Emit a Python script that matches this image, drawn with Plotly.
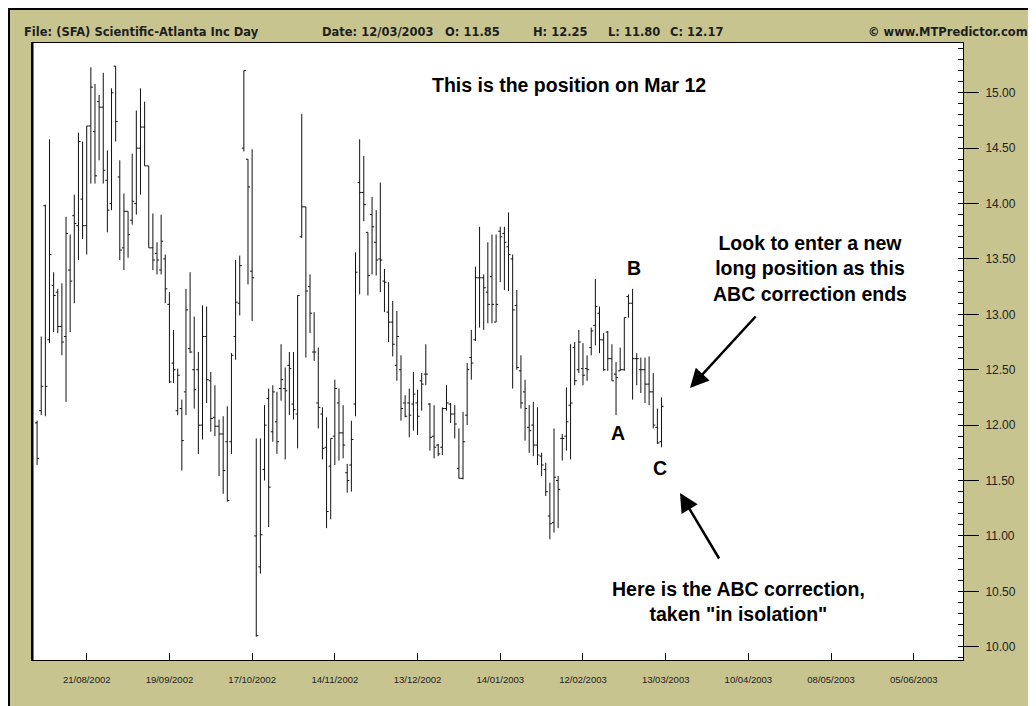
import plotly.graph_objects as go

# ---------------- data ----------------
opens = [12.02, 12.13, 13.98, 12.77, 13.26, 13.20, 12.89, 12.80, 13.40, 13.89,
         13.80, 14.04, 13.80, 14.70, 14.65, 14.92, 14.87, 14.21, 14.00, 15.24,
         14.24, 13.60, 13.93, 13.85, 14.00, 14.50, 14.69, 14.34, 13.60, 13.55,
         13.40, 13.50, 13.09, 12.56, 12.13, 12.15, 12.30, 12.69, 12.50, 12.50,
         12.00, 12.80, 12.40, 12.07, 11.99, 11.92, 11.85, 11.85, 12.80, 13.10,
         14.50, 14.40, 13.39, 11.00, 10.72, 11.60, 12.24, 11.94, 12.03, 12.33,
         12.33, 12.54, 12.19, 12.10, 13.70, 13.97, 13.25, 12.66, 12.20, 12.10,
         11.80, 11.63, 11.90, 12.20, 11.93, 11.57, 11.64, 12.19, 14.19, 14.10,
         13.74, 13.90, 13.65, 13.50, 13.30, 13.02, 12.93, 12.54, 12.50, 12.20,
         12.20, 12.19, 12.20, 12.40, 12.46, 12.19, 11.90, 11.82, 11.80, 12.15,
         12.19, 12.10, 11.61, 11.52, 12.09, 12.61, 12.77, 13.33, 13.33, 13.20,
         13.34, 12.93, 13.75, 13.73, 13.61, 13.50, 13.08, 12.49, 12.30, 11.98,
         12.00, 11.82, 11.72, 11.60, 11.18, 11.12, 11.50, 11.88, 11.90, 12.18,
         12.70, 12.50, 12.51, 12.51, 12.70, 12.90, 13.01, 12.77, 12.84, 12.60,
         12.46, 12.49, 12.50, 13.16, 13.10, 12.60, 12.50, 12.50, 12.37, 12.30,
         11.98, 11.85]

highs = [12.04, 12.80, 13.99, 14.58, 13.38, 13.23, 13.28, 13.88, 13.72, 14.08,
         14.64, 14.56, 14.70, 15.23, 15.08, 14.98, 15.18, 14.48, 15.04, 15.24,
         14.39, 14.09, 13.93, 14.45, 14.84, 15.04, 14.92, 14.34, 13.91, 13.65,
         13.90, 13.54, 13.20, 12.86, 12.51, 12.23, 13.23, 13.38, 12.98, 12.66,
         13.08, 13.07, 12.48, 12.36, 12.05, 12.08, 12.17, 12.65, 13.49, 13.53,
         15.20, 14.40, 14.49, 11.88, 11.88, 12.18, 12.33, 12.36, 12.30, 12.73,
         12.52, 12.66, 12.66, 13.17, 14.81, 13.97, 13.36, 13.02, 12.70, 12.16,
         12.07, 11.88, 12.41, 12.33, 12.18, 11.65, 12.04, 13.56, 14.58, 14.43,
         13.74, 14.06, 13.94, 14.19, 13.41, 13.29, 13.12, 13.03, 12.63, 12.27,
         12.33, 12.48, 12.32, 12.47, 12.73, 12.20, 12.18, 11.83, 12.16, 12.36,
         12.20, 12.18, 11.97, 12.12, 12.56, 12.86, 13.43, 13.79, 13.36, 13.65,
         13.72, 13.72, 13.79, 13.79, 13.92, 13.54, 13.22, 12.63, 12.41, 12.18,
         12.21, 12.16, 11.75, 11.66, 11.48, 11.97, 11.54, 11.92, 12.34, 12.73,
         12.75, 12.86, 12.74, 12.63, 12.88, 13.32, 13.07, 12.83, 12.85, 12.73,
         12.57, 12.70, 12.97, 13.18, 13.23, 12.65, 12.61, 12.61, 12.62, 12.47,
         12.15, 12.25]

lows = [11.64, 12.09, 12.08, 12.74, 12.84, 12.83, 12.63, 12.21, 12.84, 13.10,
        13.49, 13.68, 13.54, 14.18, 14.18, 14.39, 14.18, 13.74, 13.94, 14.56,
        13.49, 13.40, 13.51, 13.81, 13.90, 14.08, 14.34, 13.60, 13.40, 13.36,
        13.36, 13.10, 12.38, 12.38, 12.09, 11.59, 12.09, 12.65, 12.15, 11.74,
        11.87, 12.20, 11.94, 11.90, 11.54, 11.38, 11.31, 11.74, 12.59, 12.99,
        14.47, 13.27, 12.94, 10.09, 10.66, 11.50, 11.08, 11.85, 11.74, 12.22,
        11.69, 12.09, 12.05, 11.79, 13.69, 12.61, 12.83, 12.58, 11.97, 11.69,
        11.07, 11.15, 11.64, 11.68, 11.70, 11.39, 11.40, 12.08, 13.18, 13.84,
        13.17, 13.36, 13.35, 13.20, 13.02, 12.75, 12.62, 12.40, 12.04, 12.07,
        11.89, 11.95, 11.91, 12.13, 12.36, 11.77, 11.70, 11.72, 11.73, 12.13,
        12.02, 11.88, 11.52, 11.51, 12.00, 12.41, 12.76, 12.88, 12.86, 12.92,
        12.92, 12.93, 13.29, 13.22, 13.21, 12.33, 12.50, 12.15, 11.86, 11.75,
        11.72, 11.64, 11.54, 11.36, 10.97, 11.03, 11.07, 11.68, 11.77, 11.69,
        12.36, 12.47, 12.36, 12.40, 12.63, 12.72, 12.65, 12.49, 12.49, 12.40,
        12.09, 12.49, 12.49, 12.97, 12.23, 12.36, 12.29, 12.20, 12.18, 11.97,
        11.83, 11.80]

closes = [11.70, 12.35, 12.35, 13.54, 13.17, 12.89, 12.75, 13.73, 13.30, 13.82,
          14.56, 13.80, 14.70, 15.05, 14.25, 14.87, 14.30, 13.94, 15.00, 14.74,
          13.58, 13.93, 13.72, 14.02, 14.50, 14.69, 14.34, 13.60, 13.49, 13.49,
          13.66, 13.23, 12.39, 12.50, 12.45, 11.86, 13.04, 12.66, 12.32, 12.00,
          12.80, 12.41, 12.06, 11.99, 11.92, 11.59, 11.32, 12.63, 13.11, 13.44,
          15.20, 14.15, 13.33, 10.10, 11.01, 12.00, 11.44, 12.30, 11.85, 12.41,
          12.31, 12.51, 12.14, 13.17, 13.97, 13.21, 13.01, 12.66, 12.16, 11.79,
          11.22, 11.88, 12.33, 11.93, 11.82, 11.50, 11.87, 13.38, 14.10, 13.99,
          13.35, 13.79, 13.49, 13.49, 13.29, 12.93, 12.73, 12.80, 12.15, 12.08,
          12.09, 12.28, 12.08, 12.37, 12.46, 11.89, 11.80, 11.74, 12.15, 12.20,
          12.10, 12.01, 11.52, 11.85, 12.50, 12.56, 13.33, 13.33, 13.24, 13.09,
          13.09, 13.09, 13.70, 13.65, 13.54, 13.04, 12.52, 12.20, 12.15, 11.95,
          11.82, 11.73, 11.64, 11.40, 11.11, 11.53, 11.42, 11.88, 12.03, 12.20,
          12.40, 12.75, 12.45, 12.50, 12.85, 13.07, 12.77, 12.50, 12.60, 12.40,
          12.43, 12.50, 12.97, 13.10, 12.60, 12.60, 12.50, 12.37, 12.30, 12.00,
          11.84, 12.17]

# trading-day index of each bar (bar 12 is 21/08/2002)
bar_index = list(range(len(closes)))

tick_positions = [12, 32, 52, 72, 92, 112, 132, 152, 172, 192, 212]
tick_labels = ["21/08/2002", "19/09/2002", "17/10/2002", "14/11/2002",
               "13/12/2002", "14/01/2003", "12/02/2003", "13/03/2003",
               "10/04/2003", "08/05/2003", "05/06/2003"]

header_left = "File: (SFA) Scientific-Atlanta Inc Day"
header_fields = ["Date: 12/03/2003", "O: 11.85", "H: 12.25", "L: 11.80", "C: 12.17"]
header_right = "\u00a9 www.MTPredictor.com"

# ---------------- layout geometry ----------------
# The page body has an 8px margin, so the figure sits at page (8, 8).
OFF = 8
W, H = 1036 - OFF, 706 - OFF
PLOT_L, PLOT_R, PLOT_T, PLOT_B = 32, 963, 43, 660      # page pixels
L_M, T_M = PLOT_L - OFF, PLOT_T - OFF
R_M, B_M = W - (PLOT_R - OFF), H - (PLOT_B - OFF)
PW, PH = PLOT_R - PLOT_L, PLOT_B - PLOT_T
X_RANGE = [-1.23, 223.9]
Y_RANGE = [9.88, 15.449]


def px_x(px):
    return (px - PLOT_L) / PW


def px_y(py):
    return (PLOT_B - py) / PH


def dx(px):
    return X_RANGE[0] + (px - PLOT_L) / PW * (X_RANGE[1] - X_RANGE[0])


def dy(py):
    return Y_RANGE[1] - (py - PLOT_T) / PH * (Y_RANGE[1] - Y_RANGE[0])


BG = "#c8c490"

fig = go.Figure()
fig.add_trace(go.Ohlc(
    x=bar_index, open=opens, high=highs, low=lows, close=closes,
    increasing=dict(line=dict(color="#111111", width=1)),
    decreasing=dict(line=dict(color="#111111", width=1)),
    tickwidth=0.5, hoverinfo="skip", showlegend=False,
))
fig.add_trace(go.Scatter(x=[], y=[], yaxis="y2", showlegend=False, hoverinfo="skip"))

fig.update_layout(
    width=W, height=H,
    margin=dict(l=L_M, r=R_M, t=T_M, b=B_M, pad=0),
    paper_bgcolor=BG, plot_bgcolor="white",
    showlegend=False,
    xaxis=dict(
        range=X_RANGE, tickmode="array", tickvals=tick_positions, ticktext=tick_labels,
        ticks="inside", ticklen=7, tickcolor="black", tickwidth=1,
        showline=True, linecolor="black", linewidth=1, mirror=True,
        showgrid=False, zeroline=False, rangeslider=dict(visible=False),
        tickfont=dict(family="Liberation Sans, Arial", size=9.5, color="#222"),
        ticklabelstandoff=11,
    ),
    yaxis=dict(
        side="right", range=Y_RANGE, tick0=10, dtick=0.5, tickformat=".2f",
        ticks="outside", ticklen=15, tickcolor="black", tickwidth=1,
        showline=True, linecolor="black", linewidth=1, mirror=True,
        showgrid=False, zeroline=False,
        tickfont=dict(family="Liberation Sans, Arial", size=12, color="#222"),
        ticklabelstandoff=4,
    ),
    yaxis2=dict(
        overlaying="y", side="right", range=Y_RANGE, tick0=10, dtick=0.1,
        ticks="inside", ticklen=5, tickcolor="black", tickwidth=1,
        showticklabels=False, showgrid=False, zeroline=False, showline=False,
    ),
)

# window frame (black edge along the top and left of the figure)
fig.add_shape(type="rect", xref="paper", yref="paper", x0=px_x(OFF), x1=px_x(1040),
              y0=px_y(OFF + 2), y1=px_y(OFF - 1), fillcolor="black", line_width=0)
fig.add_shape(type="rect", xref="paper", yref="paper", x0=px_x(OFF - 1), x1=px_x(OFF + 2),
              y0=px_y(720), y1=px_y(OFF), fillcolor="black", line_width=0)
# thicker left plot border
fig.add_shape(type="line", xref="paper", yref="paper", x0=px_x(32.5), x1=px_x(32.5),
              y0=0, y1=1, line=dict(color="black", width=2))

# header
hfont = dict(family="DejaVu Sans", size=11.5, color="#1e1e1e")
fig.add_annotation(xref="paper", yref="paper", x=px_x(22), y=px_y(32), text="<b>%s</b>" % header_left,
                   showarrow=False, xanchor="left", yanchor="middle", font=hfont)
for txt, px in zip(header_fields, [320, 443, 531, 606, 668]):
    fig.add_annotation(xref="paper", yref="paper", x=px_x(px), y=px_y(32), text="<b>%s</b>" % txt,
                       showarrow=False, xanchor="left", yanchor="middle", font=hfont)
fig.add_annotation(xref="paper", yref="paper", x=px_x(1030), y=px_y(32), text="<b>%s</b>" % header_right,
                   showarrow=False, xanchor="right", yanchor="middle", font=hfont)

# chart annotations
afont = dict(family="Liberation Sans, Arial", size=19.5, color="black")
notes = [
    ("This is the position on Mar 12", 569, 85),
    ("B", 634, 268),
    ("A", 618, 433),
    ("C", 660, 468),
    ("Look to enter a new<br>long position as this<br>ABC correction ends", 810, 268),
    ("Here is the ABC correction,<br>taken \"in isolation\"", 738, 601),
]
for txt, px, py in notes:
    fig.add_annotation(x=dx(px), y=dy(py), text="<b>%s</b>" % txt, showarrow=False,
                       xanchor="center", yanchor="middle", font=afont, align="center")

# arrows
for hx, hy, tx, ty in [(690, 388, 757, 315), (680, 493, 720, 560)]:
    fig.add_annotation(x=dx(hx), y=dy(hy), ax=tx - hx, ay=ty - hy, text="",
                       showarrow=True, arrowhead=2, arrowsize=1.5, arrowwidth=2.5,
                       arrowcolor="black", standoff=0)

fig.write_html("out.html")
